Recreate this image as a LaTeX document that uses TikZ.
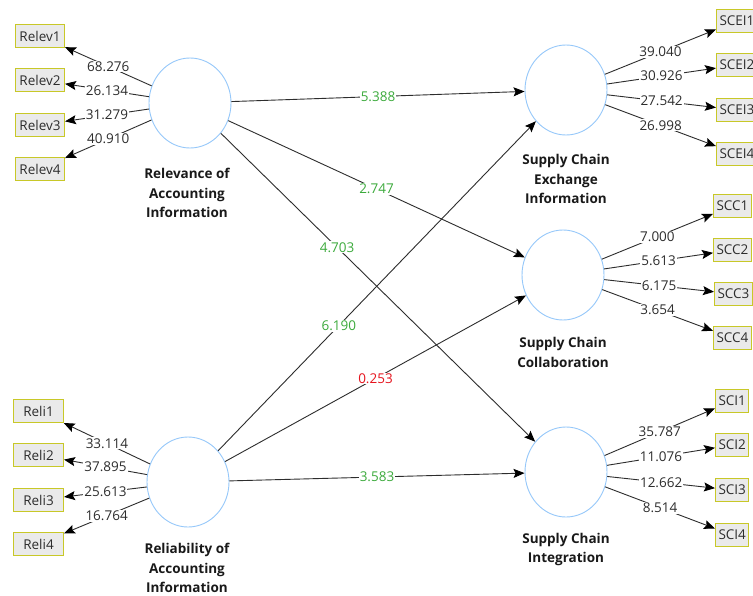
\documentclass[tikz,border=0pt]{standalone}
\usepackage{fontspec}
\setmainfont{Open Sans}
\usetikzlibrary{shapes.geometric,arrows.meta}
\definecolor{circ}{RGB}{150,200,250}
\definecolor{boxb}{RGB}{200,200,40}
\definecolor{boxf}{RGB}{234,234,234}
\definecolor{grn}{RGB}{60,170,60}
\definecolor{rd}{RGB}{230,20,30}
\definecolor{ln}{RGB}{45,45,45}
\definecolor{txt}{RGB}{45,45,45}
\begin{document}
\begin{tikzpicture}[x=1pt,y=-1pt,
 lat/.style={ellipse, draw=circ, line width=0.9pt, minimum width=82pt, minimum height=90pt, inner sep=0pt},
 latlab/.style={align=center, font=\fontsize{13.5}{19.5}\selectfont\bfseries, text=black!90},
 ind/.style={draw=boxb, fill=boxf, line width=1pt, minimum height=23pt, inner xsep=3pt, inner ysep=0pt, font=\fontsize{13.5}{15}\selectfont, text=txt},
 arr/.style={draw=ln, line width=0.9pt, -{Stealth[length=11pt,width=9pt,inset=2pt,color=black]}},
 num/.style={fill=white, inner sep=1pt, font=\fontsize{13.5}{15}\selectfont, text=txt},
 gnum/.style={num, text=grn},
 rnum/.style={num, text=rd}]
\useasboundingbox (0,0) rectangle (753,595);
\fill[white] (0,0) rectangle (753,595);
% latent variables
\node[lat] (rel) at (190,103) {};
\node[lat] (reli) at (188,482) {};
\node[lat] (scei) at (566,90) {};
\node[lat] (scc) at (563,275) {};
\node[lat] (sci) at (566,472) {};
\node[latlab] (rellab) at (187,193) {Relevance of\\Accounting\\Information};
\node[latlab] (relilab) at (187,568) {Reliability of\\Accounting\\Information};
\node[latlab] (sceilab) at (566,179) {Supply Chain\\Exchange\\Information};
\node[latlab] (scclab) at (563,352.5) {Supply Chain\\Collaboration};
\node[latlab] (scilab) at (566,549.5) {Supply Chain\\Integration};
% indicators left
\node[ind, minimum width=49pt, anchor=west] (relev1) at (15,36) {Relev1};
\node[ind, minimum width=49pt, anchor=west] (relev2) at (15,80) {Relev2};
\node[ind, minimum width=49pt, anchor=west] (relev3) at (15,125) {Relev3};
\node[ind, minimum width=49pt, anchor=west] (relev4) at (15,169) {Relev4};
\node[ind, minimum width=50pt, anchor=west] (reli1) at (13,411) {Reli1};
\node[ind, minimum width=50pt, anchor=west] (reli2) at (13,455) {Reli2};
\node[ind, minimum width=50pt, anchor=west] (reli3) at (13,500) {Reli3};
\node[ind, minimum width=50pt, anchor=west] (reli4) at (13,544) {Reli4};
% indicators right
\node[ind, anchor=west] (scei1) at (716,21) {SCEI1};
\node[ind, anchor=west] (scei2) at (716,65) {SCEI2};
\node[ind, anchor=west] (scei3) at (716,110) {SCEI3};
\node[ind, anchor=west] (scei4) at (716,154) {SCEI4};
\node[ind, anchor=west] (scc1) at (713,206) {SCC1};
\node[ind, anchor=west] (scc2) at (713,250) {SCC2};
\node[ind, anchor=west] (scc3) at (714,294) {SCC3};
\node[ind, anchor=west] (scc4) at (713,338) {SCC4};
\node[ind, anchor=west] (sci1) at (715,401) {SCI1};
\node[ind, anchor=west] (sci2) at (715,445) {SCI2};
\node[ind, anchor=west] (sci3) at (715,490) {SCI3};
\node[ind, anchor=west] (sci4) at (715,535) {SCI4};
% outer loadings
\draw[arr] (rel) -- node[num]{68.276} (relev1);
\draw[arr] (rel) -- node[num]{26.134} (relev2);
\draw[arr] (rel) -- node[num]{31.279} (relev3);
\draw[arr] (rel) -- node[num]{40.910} (relev4);
\draw[arr] (reli) -- node[num]{33.114} (reli1);
\draw[arr] (reli) -- node[num]{37.895} (reli2);
\draw[arr] (reli) -- node[num]{25.613} (reli3);
\draw[arr] (reli) -- node[num]{16.764} (reli4);
\draw[arr] (scei) -- node[num]{39.040} (scei1);
\draw[arr] (scei) -- node[num]{30.926} (scei2);
\draw[arr] (scei) -- node[num]{27.542} (scei3);
\draw[arr] (scei) -- node[num]{26.998} (scei4);
\draw[arr] (scc) -- node[num]{7.000} (scc1);
\draw[arr] (scc) -- node[num]{5.613} (scc2);
\draw[arr] (scc) -- node[num]{6.175} (scc3);
\draw[arr] (scc) -- node[num]{3.654} (scc4);
\draw[arr] (sci) -- node[num]{35.787} (sci1);
\draw[arr] (sci) -- node[num]{11.076} (sci2);
\draw[arr] (sci) -- node[num]{12.662} (sci3);
\draw[arr] (sci) -- node[num]{8.514} (sci4);
% structural paths
\draw[arr] (rel) -- node[gnum]{5.388} (scei);
\draw[arr] (rel) -- node[gnum]{2.747} (scc);
\draw[arr] (rel) -- node[gnum, pos=0.37]{4.703} (sci);
\draw[arr] (reli) -- node[gnum, pos=0.38]{6.190} (scei);
\draw[arr] (reli) -- node[rnum]{0.253} (scc);
\draw[arr] (reli) -- node[gnum]{3.583} (sci);
\end{tikzpicture}
\end{document}
